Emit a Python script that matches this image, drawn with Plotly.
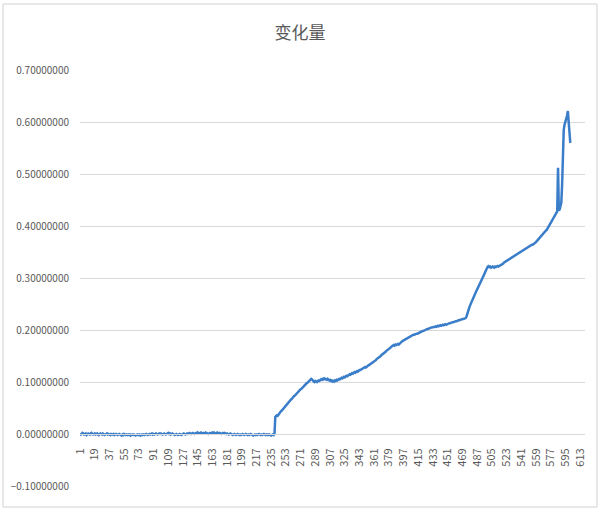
import plotly.graph_objects as go

# ---- data ----
title_text = "变化量"
n_categories = 619
tick_step = 18

seg_flat = [
    0.001, -0.001, 0.000, 0.002, 0.001, -0.001, 0.000, 0.001, -0.002, 0.000, 0.001, 0.000, -0.001, 0.001, 0.002, 0.000, -0.001, 0.000, 0.001, -0.001,
    0.000, 0.001, -0.001, -0.002, 0.000, 0.001, 0.000, -0.001, 0.001, 0.000, -0.002, -0.001, 0.000, 0.001, -0.001, 0.000, -0.001, -0.002, 0.000, -0.001,
    -0.001, 0.000, -0.002, -0.001, 0.000, -0.001, -0.002, -0.001, 0.000, -0.001, -0.002, -0.003, -0.001, -0.002, 0.000, -0.001, -0.002, -0.001, -0.002, -0.001,
    -0.002, -0.001, -0.003, -0.002, -0.001, -0.002, -0.001, -0.002, -0.003, -0.002, -0.001, -0.002, -0.002, -0.001, -0.003, -0.002, -0.001, -0.002, -0.001, -0.002,
    -0.001, 0.000, -0.001, -0.002, -0.001, 0.000, -0.001, 0.000, 0.001, -0.001, 0.000, -0.001, 0.000, 0.001, 0.000, -0.001, 0.000, 0.001, 0.000, 0.001,
    0.000, -0.001, 0.000, 0.001, 0.000, -0.001, 0.000, 0.001, 0.002, 0.000, 0.001, -0.001, 0.000, 0.001, 0.000, -0.001, -0.002, -0.001, 0.000, -0.001,
    -0.002, -0.001, 0.000, -0.001, -0.002, -0.001, 0.000, 0.001, 0.000, -0.001, 0.000, 0.001, 0.000, 0.001, 0.002, 0.001, 0.000, 0.001, 0.002, 0.001,
    0.000, 0.001, 0.002, 0.001, 0.003, 0.002, 0.001, 0.002, 0.003, 0.002, 0.001, 0.002, 0.001, 0.002, 0.003, 0.002, 0.001, 0.000, 0.001, 0.002,
    0.001, 0.002, 0.003, 0.002, 0.003, 0.002, 0.001, 0.002, 0.003, 0.002, 0.001, 0.002, 0.001, 0.000, 0.001, 0.002, 0.001, 0.002, 0.001, 0.000,
    0.001, 0.000, -0.001, 0.000, 0.001, 0.000, -0.001, -0.002, -0.001, 0.000, -0.001, -0.002, -0.001, 0.000, -0.001, -0.002, -0.001, -0.002, -0.001, 0.000,
    -0.001, -0.002, -0.001, 0.000, -0.001, -0.002, -0.001, -0.002, -0.001, 0.000, -0.001, -0.002, -0.003, -0.002, -0.001, -0.002, -0.001, -0.002, -0.001, 0.000,
    -0.001, -0.002, -0.001, -0.002, -0.001, 0.000, -0.001, -0.002, -0.001, -0.002, -0.001, -0.002, -0.001, -0.002, -0.003, -0.002, -0.001, -0.002, 0.000,
]
seg_jump = [
    0.033, 0.034, 0.036, 0.035, 0.038, 0.040, 0.042, 0.044, 0.045, 0.047, 0.050, 0.052, 0.053, 0.056, 0.057, 0.059, 0.061, 0.062, 0.064, 0.066,
    0.067, 0.070, 0.071, 0.073, 0.074, 0.076, 0.078, 0.079, 0.081, 0.082, 0.084, 0.086, 0.087, 0.089, 0.090, 0.092, 0.094, 0.095, 0.097, 0.098,
    0.100, 0.101, 0.103, 0.104, 0.106, 0.105,
]
seg_plateau = [
    0.102, 0.101, 0.100, 0.102, 0.101, 0.100, 0.102, 0.103, 0.102, 0.104, 0.105, 0.104, 0.106, 0.105, 0.107, 0.106, 0.105, 0.104, 0.106, 0.105,
    0.103, 0.104, 0.102, 0.103, 0.101, 0.102, 0.101, 0.103, 0.102, 0.104, 0.103, 0.105, 0.106, 0.105, 0.107, 0.108, 0.107, 0.109, 0.110, 0.109,
    0.111, 0.112, 0.111, 0.113, 0.114,
]
seg_rise1 = [
    0.115, 0.114, 0.116, 0.117, 0.116, 0.118, 0.119, 0.118, 0.120, 0.121, 0.120, 0.122, 0.123, 0.123,
    0.124, 0.125, 0.126, 0.126, 0.128, 0.129, 0.128, 0.130, 0.131, 0.132, 0.133, 0.134, 0.135, 0.136, 0.137, 0.138,
    0.140, 0.141, 0.142, 0.144, 0.145, 0.146, 0.148, 0.149, 0.150, 0.152, 0.153, 0.154, 0.156, 0.157, 0.158, 0.160,
    0.161, 0.162, 0.164, 0.165, 0.166, 0.168, 0.169, 0.170, 0.171,
    0.170, 0.172, 0.171, 0.172, 0.173, 0.172, 0.174, 0.175, 0.176, 0.178, 0.179, 0.180, 0.181, 0.182, 0.183, 0.184,
    0.185, 0.186, 0.187, 0.188, 0.189, 0.189, 0.190, 0.191, 0.191, 0.192, 0.192, 0.193, 0.193, 0.194,
]
seg_rise2 = [
    0.195, 0.196, 0.196, 0.197, 0.198, 0.198, 0.199, 0.200, 0.200, 0.201, 0.202, 0.202, 0.203, 0.204, 0.204, 0.205, 0.205, 0.206, 0.206, 0.206,
    0.207, 0.206, 0.207, 0.208, 0.207, 0.208, 0.209, 0.208, 0.209, 0.210, 0.209, 0.210, 0.211, 0.210, 0.211, 0.212, 0.212, 0.213, 0.213, 0.214,
    0.214, 0.215, 0.215, 0.216, 0.216, 0.217, 0.217, 0.218, 0.218, 0.219, 0.219, 0.220, 0.220, 0.221, 0.221, 0.222, 0.222, 0.223,
]
seg_steep = [
    0.226, 0.230, 0.236, 0.241, 0.246, 0.250, 0.254, 0.258, 0.262, 0.266, 0.269, 0.272, 0.275, 0.278, 0.281, 0.284, 0.287, 0.290, 0.293, 0.296,
    0.300, 0.304, 0.308, 0.312, 0.316, 0.319, 0.322, 0.323,
]
seg_shelf = [0.321, 0.322, 0.320, 0.321, 0.322, 0.321, 0.320, 0.322, 0.321, 0.322, 0.323, 0.322, 0.323, 0.324, 0.324]
seg_rise3 = [
    0.325, 0.327, 0.328, 0.330, 0.331, 0.332, 0.334, 0.335,
    0.336, 0.337, 0.338, 0.339, 0.340, 0.341, 0.342, 0.343, 0.344, 0.345, 0.346, 0.347, 0.348, 0.349, 0.350, 0.351,
    0.352, 0.353, 0.354, 0.355, 0.356, 0.357, 0.358, 0.359, 0.360,
    0.361, 0.362, 0.362, 0.363, 0.364, 0.364, 0.365, 0.366, 0.368, 0.369, 0.371, 0.373,
    0.375, 0.377, 0.379, 0.381, 0.383, 0.385, 0.387, 0.389, 0.390, 0.391, 0.392,
    0.395, 0.398, 0.401, 0.404, 0.407, 0.410, 0.413, 0.415, 0.417, 0.420, 0.423, 0.426, 0.428,
]
seg_end = [0.512, 0.430, 0.432, 0.437, 0.445, 0.480, 0.540, 0.585, 0.595, 0.600, 0.605, 0.612, 0.621, 0.600, 0.590, 0.560]

values = seg_flat + seg_jump + seg_plateau + seg_rise1 + seg_rise2 + seg_steep + seg_shelf + seg_rise3 + seg_end
categories = list(range(1, len(values) + 1))
tick_vals = list(range(1, n_categories, tick_step))
tick_text = [str(v) for v in tick_vals]
y_ticks = [-0.1, 0.0, 0.1, 0.2, 0.3, 0.4, 0.5, 0.6, 0.7]

# ---- layout constants ----
W, H = 600, 513
ML, MR, MT, MB = 80, 15, 70, 27
pw, ph = W - ML - MR, H - MT - MB
y_min, y_max = -0.1, 0.7

def px_x(p):
    return (p - ML) / pw

def px_y(p):
    return (H - MB - p) / ph

grid_col = "#D9D9D9"
text_col = "#595959"
line_col = "#3A7DC9"
font_fam = "Noto Sans CJK SC, Noto Sans, DejaVu Sans"

fig = go.Figure()
fig.add_trace(go.Scatter(
    x=categories, y=values, mode="lines",
    line=dict(color=line_col, width=2.5), showlegend=False, hoverinfo="skip",
))

fig.update_layout(
    width=W, height=H,
    margin=dict(l=ML, r=MR, t=MT, b=MB),
    paper_bgcolor="white", plot_bgcolor="white",
    title=dict(text=title_text, x=0.5, xanchor="center", y=1 - 33 / H, yanchor="middle",
               font=dict(family=font_fam, size=17, color=text_col)),
    font=dict(family=font_fam, color=text_col),
    xaxis=dict(
        range=[1, n_categories], tickmode="array", tickvals=tick_vals, ticktext=tick_text,
        tickangle=-90, tickfont=dict(size=11, color=text_col), showgrid=False, zeroline=False,
        showline=True, linecolor=grid_col, linewidth=1, ticks="", ticklabelstandoff=9,
        anchor="free", position=(0 - y_min) / (y_max - y_min),
    ),
    yaxis=dict(
        range=[y_min, y_max], tickmode="array", tickvals=y_ticks, tickformat=".8f",
        tickfont=dict(size=10, color=text_col), showgrid=True, gridcolor=grid_col, gridwidth=1,
        zeroline=False, showline=False, ticks="", ticklabelstandoff=10,
    ),
    shapes=[
        dict(type="rect", xref="paper", yref="paper",
             x0=px_x(3), x1=px_x(597), y0=px_y(507), y1=px_y(4),
             line=dict(color="#D0D0D0", width=1), fillcolor="rgba(0,0,0,0)", layer="below"),
    ],
)

fig.write_html(
    "out.html",
    config={"displayModeBar": False},
    post_script="document.body.style.margin='0';document.body.style.overflow='hidden';",
)
